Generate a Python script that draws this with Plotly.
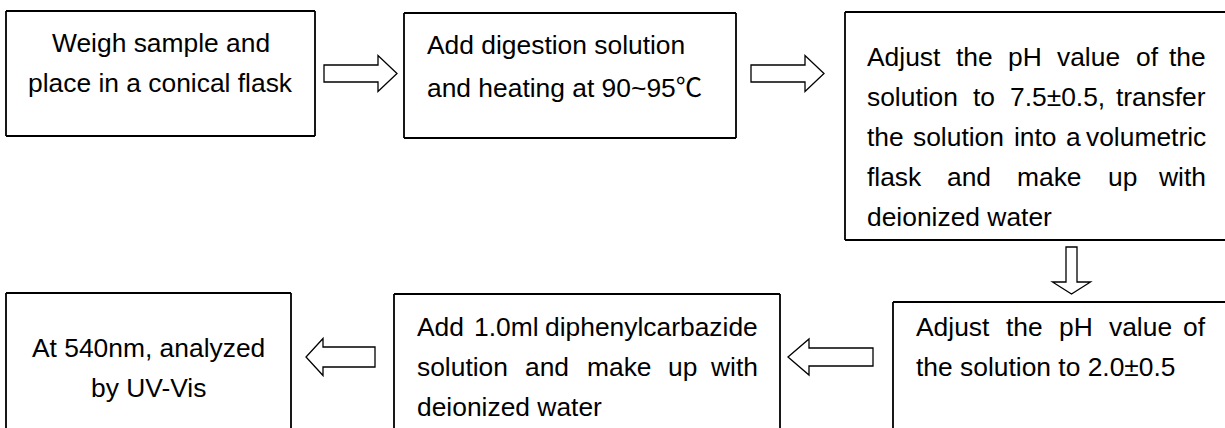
import plotly.graph_objects as go

FONT = "Liberation Sans, Arial, Helvetica, sans-serif"
FS = 26.4
LINE_H = 40
W, H = 1225, 428

# ---- flowchart content ----
steps = [
    ["Weigh sample and", "place in a conical flask"],
    ["Add digestion solution", "and heating at 90~95℃"],
    ["Adjust the pH value of the", "solution to 7.5±0.5, transfer",
     "the solution into a volumetric", "flask and make up with", "deionized water"],
    ["Adjust the pH value of", "the solution to 2.0±0.5"],
    ["Add 1.0ml diphenylcarbazide", "solution and make up with", "deionized water"],
    ["At 540nm, analyzed", "by UV-Vis"],
]
text_align = ["center", "left", "justify", "justify", "justify", "center"]

# ---- layout geometry (pixels) ----
box_x0 = [6, 404, 845, 893, 394, 6]
box_x1 = [315, 736, 1300, 1300, 780, 291]
box_y0 = [11, 13, 12, 302, 294, 293]
box_y1 = [136, 138, 240, 500, 500, 500]
text_left = [None, 425, 865, 914, 415, None]
text_right = [None, None, 1208, 1208, 760, None]
first_line_y = [43, 45, 57, 327, 327, 348]

# arrows: direction, axis centre, tail, tip, shaft half width, head half width, head length
arr_dir = ["right", "right", "down", "left", "left"]
arr_c = [73.5, 73.5, 1071.5, 357, 357]
arr_tail = [324, 751, 247, 873, 375]
arr_tip = [397, 824, 294, 788, 306]
arr_shaft = [8.5, 8.5, 5.5, 9, 10]
arr_head = [18, 18, 19, 18, 18.5]
arr_hlen = [19, 19, 12, 21, 17]

# Arial / Liberation Sans advance widths (per 1000 em)
AW = {' ': 278, ',': 278, '-': 333, '.': 278, '±': 584, '~': 584}
for ch in '0123456789':
    AW[ch] = 556
AW.update(dict(zip('ABCDEFGHIJKLMNOPQRSTUVWXYZ',
                   [667, 667, 722, 722, 667, 611, 778, 722, 278, 500, 667, 556, 833,
                    722, 778, 667, 778, 722, 667, 611, 722, 667, 944, 667, 667, 611])))
AW.update(dict(zip('abcdefghijklmnopqrstuvwxyz',
                   [556, 556, 500, 556, 556, 278, 556, 556, 222, 222, 500, 222, 833,
                    556, 556, 556, 556, 333, 500, 278, 556, 500, 722, 500, 500, 500])))


def text_w(s):
    return sum(AW.get(c, 556) for c in s) / 1000.0 * FS


def fmt(s):
    return s.replace("℃", "<span style='font-family:Noto Sans CJK SC'>℃</span>")


fig = go.Figure()
shapes = []
annotations = []

for i, lines in enumerate(steps):
    x0, x1, y0, y1 = box_x0[i], box_x1[i], box_y0[i], box_y1[i]
    # draw only the sides of the box that fall on the canvas
    segs = []
    segs.append(((x0, y0), (min(x1, W + 5), y0)))                 # top
    segs.append(((x0, y0), (x0, min(y1, H + 5))))                 # left
    if y1 <= H:
        segs.append(((x0, y1), (min(x1, W + 5), y1)))             # bottom
    if x1 <= W:
        segs.append(((x1, y0), (x1, min(y1, H + 5))))             # right
    path = " ".join(f"M {a[0]},{a[1]} L {b[0]},{b[1]}" for a, b in segs)
    shapes.append(dict(type="path", xref="x", yref="y", path=path,
                       line=dict(color="#000000", width=1.8)))
    for j, ln in enumerate(lines):
        y = first_line_y[i] + j * LINE_H
        base = dict(xref="x", yref="y", y=y, yanchor="middle", showarrow=False,
                    font=dict(family=FONT, size=FS, color="#000000"))
        if text_align[i] == "center":
            annotations.append(dict(base, x=(x0 + x1) / 2, xanchor="center", text=fmt(ln)))
        elif text_align[i] == "left" or j == len(lines) - 1:
            annotations.append(dict(base, x=text_left[i], xanchor="left", text=fmt(ln)))
        else:
            words = ln.split(" ")
            total = sum(text_w(w) for w in words)
            gap = (text_right[i] - text_left[i] - total) / (len(words) - 1)
            x = text_left[i]
            for k, w in enumerate(words):
                if k == len(words) - 1:
                    annotations.append(dict(base, x=text_right[i], xanchor="right", text=w))
                else:
                    annotations.append(dict(base, x=x, xanchor="left", text=w))
                x += text_w(w) + gap

for d, c, t0, t1, sh, hh, hl in zip(arr_dir, arr_c, arr_tail, arr_tip, arr_shaft, arr_head, arr_hlen):
    if d == "right":
        hb = t1 - hl
        pts = [(t0, c - sh), (hb, c - sh), (hb, c - hh), (t1, c), (hb, c + hh), (hb, c + sh), (t0, c + sh)]
    elif d == "left":
        hb = t1 + hl
        pts = [(t0, c - sh), (hb, c - sh), (hb, c - hh), (t1, c), (hb, c + hh), (hb, c + sh), (t0, c + sh)]
    else:
        hb = t1 - hl
        pts = [(c - sh, t0), (c - sh, hb), (c - hh, hb), (c, t1), (c + hh, hb), (c + sh, hb), (c + sh, t0)]
    path = "M " + " L ".join(f"{px},{py}" for px, py in pts) + " Z"
    shapes.append(dict(type="path", xref="x", yref="y", path=path,
                       line=dict(color="#000000", width=1.3), fillcolor="#ffffff"))

fig.update_layout(
    width=W, height=H,
    margin=dict(l=0, r=0, t=0, b=0),
    paper_bgcolor="#ffffff", plot_bgcolor="#ffffff",
    xaxis=dict(range=[0, W], visible=False, fixedrange=True),
    yaxis=dict(range=[H, 0], visible=False, fixedrange=True),
    shapes=shapes, annotations=annotations, showlegend=False,
)

fig.write_html("out.html", config={"displayModeBar": False},
               post_script="document.body.style.margin='0';document.body.style.overflow='hidden';")
